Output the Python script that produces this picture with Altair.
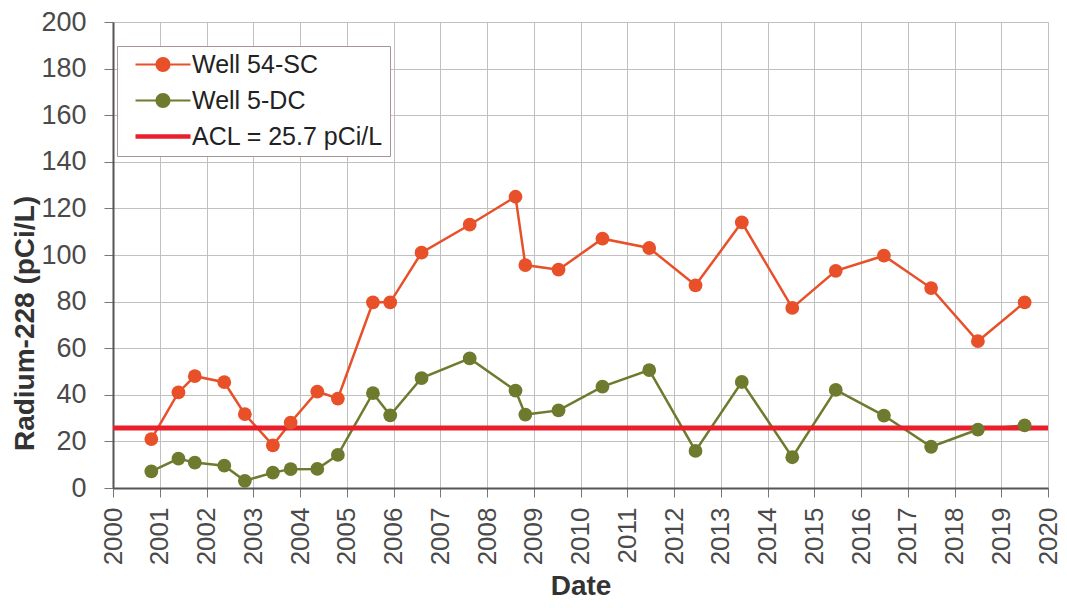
import altair as alt
import pandas as pd

years_54 = [2000.82, 2001.40, 2001.75, 2002.38, 2002.82, 2003.42, 2003.80, 2004.37, 2004.81,
            2005.56, 2005.93, 2006.60, 2007.63, 2008.61, 2008.82, 2009.53, 2010.47, 2011.47,
            2012.46, 2013.45, 2014.53, 2015.46, 2016.49, 2017.50, 2018.50, 2019.50]
well_54 = [21, 41, 48, 45.4, 31.7, 18.3, 28.1, 41.4, 38.4, 79.7, 79.7, 101, 113, 125, 95.7, 93.7,
           107, 103, 87, 114, 77.3, 93.2, 99.7, 85.8, 63, 79.7]
well_5 = [7.1, 12.6, 10.9, 9.6, 3.1, 6.6, 8.1, 8.2, 14.2, 40.7, 31.2, 47.2, 55.6, 41.8, 31.5, 33.3,
          43.5, 50.6, 15.9, 45.5, 13.2, 42.1, 31.1, 17.7, 25.1, 26.9]
acl_value = 25.7

series_names = ["Well 54-SC", "Well 5-DC", "ACL = 25.7 pCi/L"]
series_colors = ["#e8502a", "#6e7b2e", "#ea1f2c"]
year_ticks = list(range(2000, 2021))
y_ticks = list(range(0, 201, 20))

rows = []
for yr, v in zip(years_54, well_54):
    rows.append({"year": yr, "value": v, "series": series_names[0]})
for yr, v in zip(years_54, well_5):
    rows.append({"year": yr, "value": v, "series": series_names[1]})
df = pd.DataFrame(rows)
acl_df = pd.DataFrame({"value": [acl_value], "series": [series_names[2]]})

FONT = "Liberation Sans"

# legend glyphs (unit = 11 px): a line with a dot, and a thick line
line_sym = ("M0,-0.09H5V0.09H0Z "
            "M3.18,0A0.68,0.68 0 1,1 1.82,0A0.68,0.68 0 1,1 3.18,0Z")
acl_sym = "M0,-0.21H5V0.21H0Z"

legend = alt.Legend(
    title=None, orient="none", legendX=4, legendY=24,
    labelFont=FONT, labelFontSize=25, labelColor="#222222", labelLimit=400,
    symbolSize=484, symbolStrokeWidth=0, symbolOffset=0, labelOffset=44,
    fillColor="white", strokeColor="#a89494", padding=6, rowPadding=10,
)

color = alt.Color("series:N", scale=alt.Scale(domain=series_names, range=series_colors),
                  legend=legend)
shape = alt.Shape("series:N", scale=alt.Scale(domain=series_names,
                                               range=[line_sym, line_sym, acl_sym]),
                  legend=legend)

x = alt.X("year:Q", title="Date", scale=alt.Scale(domain=[2000, 2020], nice=False),
          axis=alt.Axis(values=year_ticks, format="d", labelAngle=270, labelFontSize=26,
                        labelFont=FONT, labelColor="#4a4a4a", labelPadding=10, tickSize=9,
                        titleFont=FONT, titleFontSize=28, titleFontWeight="bold",
                        titleColor="#333333", titlePadding=8,
                        domainColor="#555555", domainWidth=2, tickColor="#777777",
                        gridColor="#c0c0c0"))
y = alt.Y("value:Q", title="Radium-228 (pCi/L)", scale=alt.Scale(domain=[0, 200], nice=False),
          axis=alt.Axis(values=y_ticks, labelFontSize=27, labelFont=FONT, labelColor="#4a4a4a",
                        labelPadding=18, tickSize=9,
                        titleFont=FONT, titleFontSize=28, titleFontWeight="bold",
                        titleColor="#333333", titleX=-80, titleY=301,
                        titleAlign="center", titleBaseline="alphabetic", titleAngle=270,
                        domainColor="#555555", domainWidth=2, tickColor="#777777",
                        gridColor="#c0c0c0"))

lines = alt.Chart(df).mark_line(strokeWidth=2.5).encode(x=x, y=y, color=color, detail="series:N")
points = alt.Chart(df).mark_point(filled=True, size=190, opacity=1).encode(x=x, y=y, color=color)
rule = alt.Chart(acl_df).mark_rule(strokeWidth=5).encode(
    y=alt.Y("value:Q", scale=alt.Scale(domain=[0, 200], nice=False)), color=color)
dummy = alt.Chart(df).mark_point(filled=True, opacity=1).encode(
    x=x, y=y, color=color, shape=shape).transform_filter("datum.value < -1000")

chart = alt.layer(lines, rule, points, dummy).properties(
    width=935, height=466,
    autosize=alt.AutoSizeParams(type="none"),
    padding={"left": 105, "top": 14, "right": 11, "bottom": 112},
).configure_view(stroke="#666666", strokeWidth=2).configure(background="white")

chart.save("out.html", embed_options={"renderer": "svg", "actions": False})
